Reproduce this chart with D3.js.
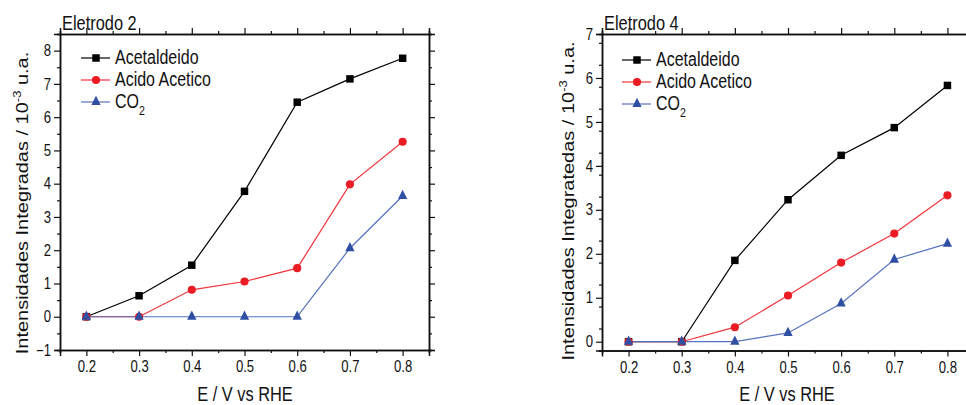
<!DOCTYPE html>
<html>
<head>
  <meta charset="utf-8">
  <title>Eletrodo 2 / Eletrodo 4</title>
  <script src="https://cdn.jsdelivr.net/npm/d3@7"></script>
  <style>
    body { margin: 0; background: #fff; }
    text { font-family: "Liberation Sans", Arial, sans-serif; fill: #111; }
  </style>
</head>
<body>
  <div id="chart"></div>
  <script>
    // Data
    const potentials = [0.2, 0.3, 0.4, 0.5, 0.6, 0.7, 0.8];
    const seriesNames = ["Acetaldeido", "Acido Acetico", "CO2"];

    const e2Acetaldeido = [0, 0.63, 1.55, 3.77, 6.45, 7.15, 7.77];
    const e2Acido = [0, 0, 0.81, 1.06, 1.46, 3.98, 5.26];
    const e2CO2 = [0, 0, 0, 0, 0, 2.06, 3.63];

    const e4Acetaldeido = [0, 0, 1.85, 3.23, 4.24, 4.87, 5.83];
    const e4Acido = [0, 0, 0.33, 1.05, 1.80, 2.46, 3.33];
    const e4CO2 = [0, 0, 0, 0.2, 0.87, 1.87, 2.23];

    const xTicks = [0.2, 0.3, 0.4, 0.5, 0.6, 0.7, 0.8];
    const e2YTicks = [-1, 0, 1, 2, 3, 4, 5, 6, 7, 8];
    const e4YTicks = [0, 1, 2, 3, 4, 5, 6, 7];

    const colors = { line: ["#000", "#f0343a", "#5673bf"], mark: ["#000", "#ec1c24", "#2f4fa4"] };
    const symbols = [d3.symbolSquare, d3.symbolCircle, d3.symbolTriangle];
    const symSizes = [56, 52, 46];
    const SX = 0.82; // the original picture is squeezed sideways, text looks narrow

    const svg = d3.select("#chart").append("svg")
        .attr("width", 966)
        .attr("height", 405);

    // horizontal text with narrow glyphs
    function narrowText(parent, x, y, size, anchor) {
      return parent.append("g")
        .attr("transform", `translate(${x},${y}) scale(${SX},1)`)
        .append("text")
        .attr("text-anchor", anchor || "start")
        .style("font-size", size + "px");
    }

    function drawPanel(p) {
      const x = d3.scaleLinear().domain([0.15, 0.85]).range([p.left, p.right]);
      const y = d3.scaleLinear().domain(p.yDomain).range([p.bottom, p.top]);
      const g = svg.append("g");

      const xMinor = d3.range(0.15, 0.851, 0.05).map(v => +v.toFixed(2)).filter(v => !xTicks.includes(v));
      const yMinor = d3.range(p.yDomain[0], p.yDomain[1] + 0.01, 0.5).filter(v => !p.yTicks.includes(v));

      // minor ticks first
      g.append("g").attr("transform", `translate(0,${p.bottom})`)
        .call(d3.axisBottom(x).tickValues(xMinor).tickSize(3).tickFormat(""));
      g.append("g").attr("transform", `translate(0,${p.top})`)
        .call(d3.axisTop(x).tickValues(xMinor).tickSize(3).tickFormat(""));
      g.append("g").attr("transform", `translate(${p.left},0)`)
        .call(d3.axisLeft(y).tickValues(yMinor).tickSize(3).tickFormat(""));
      g.append("g").attr("transform", `translate(${p.right},0)`)
        .call(d3.axisRight(y).tickValues(yMinor).tickSize(3).tickFormat(""));

      // major ticks
      g.append("g").attr("class", "xaxis").attr("transform", `translate(0,${p.bottom})`)
        .call(d3.axisBottom(x).tickValues(xTicks).tickSize(6).tickPadding(5).tickFormat(d3.format(".1f")));
      g.append("g").attr("transform", `translate(0,${p.top})`)
        .call(d3.axisTop(x).tickValues(xTicks).tickSize(6).tickFormat(""));
      g.append("g").attr("class", "yaxis").attr("transform", `translate(${p.left},0)`)
        .call(d3.axisLeft(y).tickValues(p.yTicks).tickSize(6).tickFormat(d3.format("d")));
      g.append("g").attr("transform", `translate(${p.right},0)`)
        .call(d3.axisRight(y).tickValues(p.yTicks).tickSize(6).tickFormat(""));

      g.selectAll(".domain").attr("stroke", "#111").attr("stroke-width", 1.5);
      g.selectAll(".tick line").attr("stroke", "#111").attr("stroke-width", 1.2);
      g.selectAll(".tick text").style("font-family", "Liberation Sans, Arial, sans-serif")
        .style("font-size", "16px").attr("fill", "#111")
        .attr("transform", `scale(${SX},1)`);
      g.selectAll(".yaxis .tick text").attr("x", -9 / SX);

      // series
      const plot = g.append("g");
      p.series.forEach((vals, i) => {
        const pts = potentials.map((v, k) => [v, vals[k]]);
        plot.append("path")
          .attr("d", d3.line().x(d => x(d[0])).y(d => y(d[1]))(pts))
          .attr("fill", "none")
          .attr("stroke", colors.line[i])
          .attr("stroke-width", 1.2);
      });
      p.series.forEach((vals, i) => {
        const pts = potentials.map((v, k) => [v, vals[k]]);
        plot.selectAll(null).data(pts).enter().append("path")
          .attr("transform", d => `translate(${x(d[0])},${y(d[1])}) scale(${i === 2 ? 0.9 : 1},${i === 2 ? 1.05 : 1})`)
          .attr("d", d3.symbol().type(symbols[i]).size(symSizes[i]))
          .attr("fill", colors.mark[i]);
      });

      // legend
      const lg = g.append("g");
      seriesNames.forEach((name, i) => {
        const ly = p.legend.y + i * 22;
        lg.append("line")
          .attr("x1", p.legend.x).attr("x2", p.legend.x + 29)
          .attr("y1", ly).attr("y2", ly)
          .attr("stroke", colors.line[i]).attr("stroke-width", 1.2);
        lg.append("path")
          .attr("transform", `translate(${p.legend.x + 15},${ly}) scale(${i === 2 ? 0.9 : 1},${i === 2 ? 1.05 : 1})`)
          .attr("d", d3.symbol().type(symbols[i]).size(symSizes[i]))
          .attr("fill", colors.mark[i]);
        const t = narrowText(lg, p.legend.x + 34, ly + 6, 19.5);
        if (name === "CO2") {
          t.append("tspan").text("CO");
          t.append("tspan").attr("dy", 7).style("font-size", "13px").text("2");
        } else {
          t.text(name);
        }
      });

      // titles
      narrowText(g, p.left + 2, 30, 20).text(p.title);
      narrowText(g, p.xlabelX, 401, 20, "middle").text("E / V vs RHE");

      const yl = g.append("text")
        .attr("transform", `translate(${p.ylabelX},${p.ylabelY}) scale(${SX},1) rotate(-90)`)
        .attr("text-anchor", "middle")
        .style("font-size", "20px");
      yl.append("tspan").text(p.ylabel + " / 10");
      yl.append("tspan").attr("dy", -8).style("font-size", "13px").text("-3");
      yl.append("tspan").attr("dy", 8).text(" u.a.");
    }

    drawPanel({
      left: 60, right: 429, top: 34, bottom: 350,
      yDomain: [-1, 8.5], yTicks: e2YTicks,
      series: [e2Acetaldeido, e2Acido, e2CO2],
      legend: { x: 81, y: 58 },
      title: "Eletrodo 2",
      xlabelX: 245,
      ylabel: "Intensidades Integradas",
      ylabelX: 28, ylabelY: 203
    });

    drawPanel({
      left: 602, right: 974, top: 34, bottom: 350.5,
      yDomain: [-0.2, 7], yTicks: e4YTicks,
      series: [e4Acetaldeido, e4Acido, e4CO2],
      legend: { x: 622, y: 60 },
      title: "Eletrodo 4",
      xlabelX: 787,
      ylabel: "Intensidades Integratedas",
      ylabelX: 574, ylabelY: 201
    });
  </script>
</body>
</html>
